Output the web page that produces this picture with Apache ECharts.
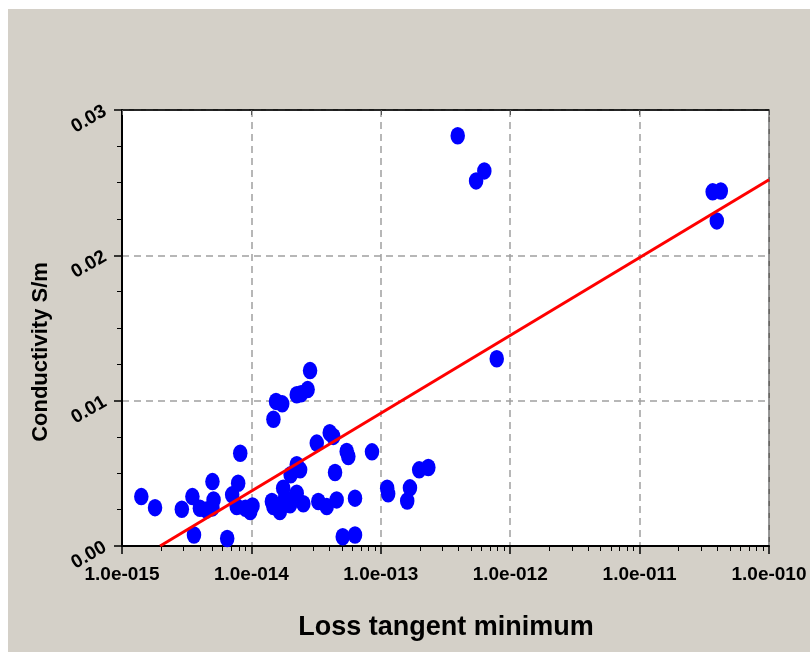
<!DOCTYPE html>
<html>
<head>
<meta charset="utf-8">
<script src="https://cdn.jsdelivr.net/npm/echarts@6/dist/echarts.min.js"></script>
<style>
  html, body { margin: 0; padding: 0; background: #fff; }
  #chart { position: absolute; left: 8px; top: 9px; width: 802px; height: 643px; }
</style>
</head>
<body>
<div id="chart"></div>
<script>
// loss tangent minimum (x, log scale)
const lossTangent = [
  1.41e-15, 1.8e-15, 2.9e-15, 3.5e-15, 3.6e-15, 4.0e-15, 4.5e-15, 5.0e-15, 5.1e-15, 5.0e-15,
  6.5e-15, 7.1e-15, 7.9e-15, 8.2e-15, 7.7e-15, 9.0e-15, 1.02e-14, 9.8e-15, 1.48e-14, 1.55e-14,
  1.73e-14, 2.24e-14, 2.42e-14, 2.72e-14, 2.84e-14, 1.44e-14, 1.48e-14, 1.66e-14, 1.76e-14, 1.82e-14,
  1.99e-14, 2.24e-14, 2.52e-14, 2.01e-14, 2.24e-14, 2.38e-14, 3.2e-14, 4.03e-14, 4.29e-14, 3.29e-14,
  3.82e-14, 4.56e-14, 4.43e-14, 5.45e-14, 5.61e-14, 6.32e-14, 5.08e-14, 6.32e-14, 8.55e-14, 1.12e-13,
  1.14e-13, 1.60e-13, 1.68e-13, 1.98e-13, 2.33e-13, 3.93e-13, 6.31e-13, 5.45e-13, 7.87e-13, 3.67e-11,
  4.24e-11, 3.95e-11
];

// conductivity S/m (y)
const conductivity = [
  0.00340, 0.00264, 0.00253, 0.00340, 0.00076, 0.00260, 0.00248, 0.00443, 0.00317, 0.00262,
  0.00052, 0.00352, 0.00432, 0.00638, 0.00271, 0.00260, 0.00276, 0.00237, 0.00872, 0.00995,
  0.00978, 0.01041, 0.01048, 0.01076, 0.01207, 0.00306, 0.00271, 0.00237, 0.00398, 0.00329,
  0.00283, 0.00363, 0.00291, 0.00490, 0.00559, 0.00524, 0.00708, 0.00779, 0.00754, 0.00306,
  0.00271, 0.00317, 0.00506, 0.00650, 0.00616, 0.00329, 0.00064, 0.00076, 0.00648, 0.00397,
  0.00359, 0.00310, 0.00400, 0.00524, 0.00540, 0.02823, 0.02581, 0.02512, 0.01288, 0.02437,
  0.02443, 0.02237
];

// regression line end points
const fitX = [1.97e-15, 1e-10];
const fitY = [0, 0.0252];

const decades = [-15, -14, -13, -12, -11];
const minorSteps = [2, 3, 4, 5, 6, 7, 8, 9];

const FONT = '"Liberation Sans", Arial, sans-serif';

const minorTicks = [];
decades.forEach(e => minorSteps.forEach(k => minorTicks.push(k * Math.pow(10, e))));

const fmtExp = (v) => {
  const e = Math.round(Math.log10(v));
  const s = String(Math.abs(e)).padStart(3, '0');
  return '1.0e' + (e < 0 ? '-' : '+') + s;
};

const chart = echarts.init(document.getElementById('chart'));

const option = {
  backgroundColor: '#d4d0c8',
  animation: false,
  grid: {
    left: 114,
    top: 101,
    width: 647,
    height: 436,
    show: true,
    backgroundColor: '#ffffff',
    borderColor: '#000',
    borderWidth: 1
  },
  xAxis: [
    {
      type: 'log',
      logBase: 10,
      min: 1e-15,
      max: 1e-10,
      splitNumber: 5,
      position: 'bottom',
      axisLine: { show: true, lineStyle: { color: '#000', width: 2 } },
      axisTick: { show: true, inside: false, length: 8, lineStyle: { color: '#000', width: 1.5 } },
      axisLabel: {
        formatter: fmtExp,
        margin: 19,
        color: '#000',
        fontFamily: FONT,
        fontWeight: 'bold',
        fontSize: 19
      },
      splitLine: { show: true, lineStyle: { color: '#a0a0a0', width: 1.5, type: [7, 5] } }
    },
    {
      type: 'log',
      logBase: 10,
      min: 1e-15,
      max: 1e-10,
      position: 'bottom',
      axisLine: { show: false },
      axisTick: { show: true, inside: false, length: 5, customValues: minorTicks, lineStyle: { color: '#000', width: 1 } },
      axisLabel: { show: false },
      splitLine: { show: false }
    },
    {
      type: 'log',
      logBase: 10,
      min: 1e-15,
      max: 1e-10,
      splitNumber: 5,
      position: 'top',
      axisLine: { show: true, lineStyle: { color: '#000', width: 1.5 } },
      axisTick: { show: true, inside: true, length: 5, lineStyle: { color: '#555', width: 1 } },
      axisLabel: { show: false },
      splitLine: { show: false }
    }
  ],
  yAxis: [
    {
      type: 'value',
      min: 0,
      max: 0.03,
      interval: 0.01,
      position: 'left',
      axisLine: { show: true, lineStyle: { color: '#000', width: 2 } },
      axisTick: { show: true, inside: false, length: 8, lineStyle: { color: '#000', width: 1.5 } },
      minorTick: { show: true, splitNumber: 4, length: 5, lineStyle: { color: '#000', width: 1 } },
      axisLabel: {
        formatter: v => v.toFixed(2),
        rotate: 30,
        margin: 17,
        color: '#000',
        fontFamily: FONT,
        fontWeight: 'bold',
        fontSize: 19
      },
      splitLine: { show: true, lineStyle: { color: '#a0a0a0', width: 1.5, type: [7, 5] } }
    }
  ],
  graphic: [
    {
      type: 'text',
      x: 33,
      y: 343,
      rotation: Math.PI / 2,
      style: {
        text: 'Conductivity S/m',
        x: 0,
        y: 0,
        align: 'center',
        verticalAlign: 'middle',
        fill: '#000',
        font: 'bold 22px ' + FONT
      }
    },
    {
      type: 'text',
      x: 438,
      y: 619,
      style: {
        text: 'Loss tangent minimum',
        x: 0,
        y: 0,
        align: 'center',
        verticalAlign: 'middle',
        fill: '#000',
        font: 'bold 27px ' + FONT
      }
    }
  ],
  series: [
    {
      type: 'scatter',
      xAxisIndex: 0,
      yAxisIndex: 0,
      symbol: 'circle',
      symbolSize: [14.5, 17.5],
      itemStyle: { color: '#0000ff', opacity: 1 },
      data: lossTangent.map((x, i) => [x, conductivity[i]]),
      z: 3
    },
    {
      type: 'line',
      xAxisIndex: 0,
      yAxisIndex: 0,
      symbol: 'none',
      lineStyle: { color: '#ff0000', width: 3 },
      data: fitX.map((x, i) => [x, fitY[i]]),
      z: 4
    }
  ]
};

chart.setOption(option);
</script>
</body>
</html>
